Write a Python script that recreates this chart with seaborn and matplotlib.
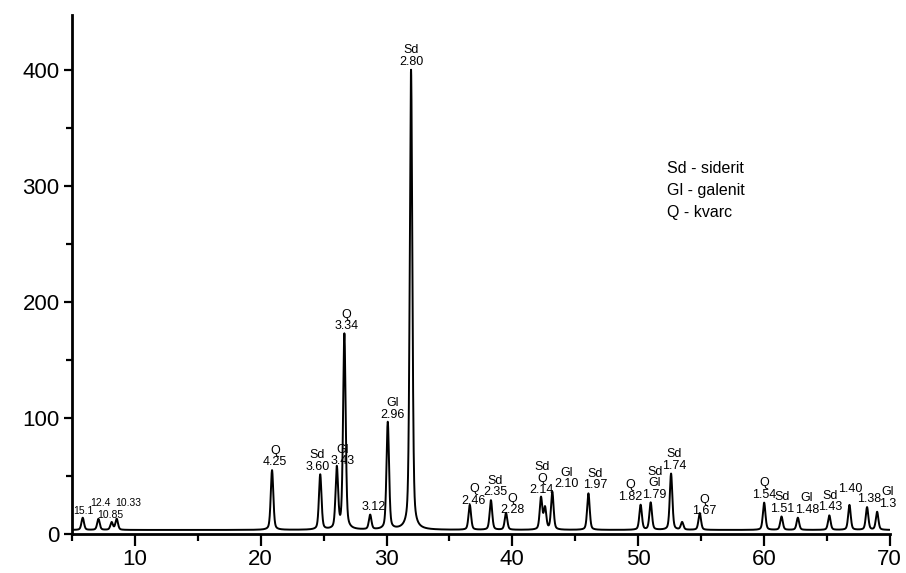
import numpy as np
import pandas as pd
import seaborn as sns
from matplotlib import pyplot as plt
from matplotlib.ticker import MultipleLocator

# peak list: 2-theta position, intensity, phase, d-spacing label
two_theta = [5.85, 7.1, 8.15, 8.55, 20.9, 24.73, 26.05, 26.65, 28.7, 30.1, 31.95,
             36.62, 38.3, 39.5, 42.28, 42.6, 43.18, 46.05, 50.2, 51.0, 52.62, 53.5,
             54.9, 60.02, 61.4, 62.7, 65.2, 66.8, 68.2, 69.0]
intensity = [14, 13, 10, 13, 55, 51, 56, 172, 16, 96, 400,
             25, 29, 18, 31, 22, 36, 35, 25, 27, 52, 10,
             18, 27, 15, 14, 16, 25, 23, 19]
phase = ['', '', '', '', 'Q', 'Sd', 'Gl', 'Q', '', 'Gl', 'Sd',
         'Q', 'Sd', 'Q', 'Sd\nQ', None, 'Gl', 'Sd', 'Q', 'Sd\nGl', 'Sd', None,
         'Q', 'Q', 'Sd', 'Gl', 'Sd', '', '', 'Gl']
d_label = ['15.1', '12.4', '10.85', '10.33', '4.25', '3.60', '3.43', '3.34', '3.12', '2.96', '2.80',
           '2.46', '2.35', '2.28', '2.14', '', '2.10', '1.97', '1.82', '1.79', '1.74', '',
           '1.67', '1.54', '1.51', '1.48', '1.43', '1.40', '1.38', '1.3']
fwhm = [0.24] * len(two_theta)
background = 3.5

legend_lines = ['Sd - siderit', 'Gl - galenit', 'Q - kvarc']

# label nudges in pixels (dx, dy)
nudge = {'15.1': (1, 0), '12.4': (2, 9), '10.85': (-1, 0), '10.33': (12, 9),
         '4.25': (3, 0), '3.60': (-3, 0), '3.43': (6, 0), '3.34': (2, 0), '3.12': (4, 0),
         '2.96': (5, 0), '2.46': (4, -4), '2.35': (4, 0), '2.28': (6, -5),
         '2.14': (1, 0), '2.10': (14, 0), '1.97': (7, 0), '1.82': (-10, 0),
         '1.79': (4, 0), '1.74': (3, 0), '1.67': (5, -6), '1.51': (1, 0),
         '1.48': (9, 0), '1.43': (1, 0), '1.40': (1, 8), '1.38': (2, 0), '1.3': (11, 0)}

peaks = pd.DataFrame({'pos': two_theta, 'height': intensity, 'phase': phase,
                      'd': d_label, 'w': fwhm})

x = np.linspace(5, 70, 13001)
y = np.full_like(x, background)
for p in peaks.itertuples():
    amp = p.height - background
    g = np.exp(-4 * np.log(2) * ((x - p.pos) / p.w) ** 2)
    l = 1 / (1 + 4 * ((x - p.pos) / p.w) ** 2)
    y += amp * (0.6 * g + 0.4 * l)
df = pd.DataFrame({'2theta': x, 'I': y})

sns.set_style('ticks')
plt.rcParams['font.family'] = ['Liberation Sans', 'DejaVu Sans']
plt.rcParams['text.color'] = 'black'
plt.rcParams['xtick.color'] = 'black'
plt.rcParams['ytick.color'] = 'black'

fig = plt.figure(figsize=(9.06, 5.73), dpi=100)
ax = fig.add_axes([0.0795, 0.068, 0.9025, 0.905])
sns.lineplot(data=df, x='2theta', y='I', color='black', lw=1.4, ax=ax,
             estimator=None, sort=False)

ax.set_xlim(5, 70)
ax.set_ylim(0, 447)
ax.set_xlabel('')
ax.set_ylabel('')
ax.xaxis.set_major_locator(MultipleLocator(10))
ax.xaxis.set_minor_locator(MultipleLocator(5))
ax.yaxis.set_major_locator(MultipleLocator(100))
ax.yaxis.set_minor_locator(MultipleLocator(50))
ax.set_xticks([10, 20, 30, 40, 50, 60, 70])
ax.tick_params(which='major', length=6, width=1.6, labelsize=16, direction='out',
               colors='black', pad=3)
ax.tick_params(which='minor', length=4, width=1.6, direction='out', colors='black')
ax.tick_params(axis='x', which='major', length=8.5, pad=2)
ax.tick_params(axis='x', which='minor', length=5)
for s in ['top', 'right']:
    ax.spines[s].set_visible(False)
for s in ['left', 'bottom']:
    ax.spines[s].set_linewidth(2)
    ax.spines[s].set_color('black')

for p in peaks.itertuples():
    if p.phase is None:
        continue
    txt = p.d if p.phase == '' else p.phase + '\n' + p.d
    dx, dy = nudge.get(p.d, (0, 0))
    fs = 7.5 if p.pos < 10 else 9
    ax.annotate(txt, xy=(p.pos, p.height), xytext=(dx, 2 + dy),
                textcoords='offset pixels', ha='center', va='bottom',
                fontsize=fs, linespacing=0.95, annotation_clip=False)

for i, t in enumerate(legend_lines):
    ax.text(52.3, 315 - i * 19, t, fontsize=11.5, va='center', ha='left')

fig.savefig('out.png', dpi=100)
